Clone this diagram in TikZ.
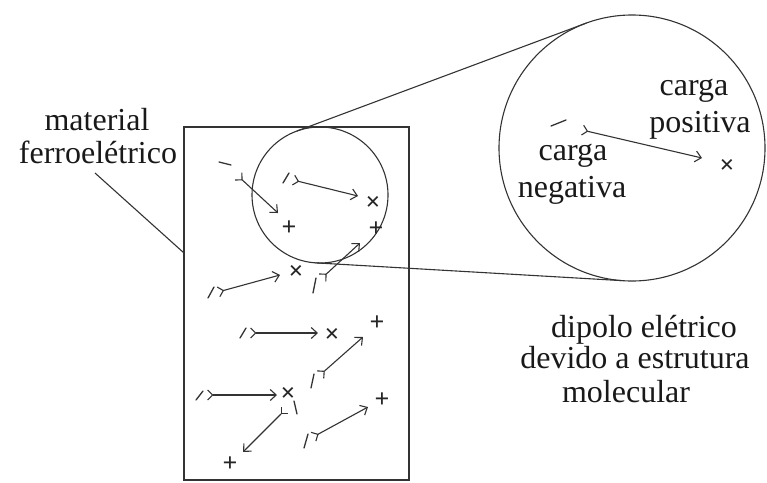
\documentclass[tikz,border=0pt]{standalone}
\usepackage{fontspec}
\setmainfont{Liberation Serif}
\usetikzlibrary{arrows.meta,calc}
\begin{document}
\begin{tikzpicture}[x=1pt,y=-1pt,
 ink/.style={draw=black!80, line width=1.1pt},
 lbl/.style={anchor=base, inner sep=0pt, text=black!90, font=\fontsize{32}{34}\selectfont},
 sgn/.style={inner sep=0pt, text=black!85, font=\fontsize{26}{26}\selectfont\bfseries},
 dip/.style={draw=black!80, line width=1.1pt, arrows={Straight Barb[reversed,length=5pt,width=10pt,line width=1.1pt]}-{Straight Barb[length=6pt,width=11pt,line width=1.1pt]}},
 tick/.style={draw=black!80, line width=1.3pt, line cap=round},
]
\useasboundingbox (0,0) rectangle (767,482);
% main shapes
\node[ink, minimum width=225pt, minimum height=353pt, inner sep=0pt, outer sep=0pt] (rect) at (296.5,303.5) {};
\node[ink, circle, minimum size=136pt, inner sep=0pt, outer sep=0pt] (small) at (320,195) {};
\node[ink, circle, minimum size=266pt, inner sep=0pt, outer sep=0pt] (big) at (632,148) {};
\draw[ink] (small.110.5) -- (big.110.5);
\draw[ink] (small.266.7) -- (big.266.7);
% labels
\node[lbl] (mat1) at (97,130) {material};
\node[lbl] (mat2) at (98,163) {ferroelétrico};
\coordinate (ls) at (95,173);
\coordinate (le) at (184,253);
\draw[ink] (ls) -- (le);
\node[lbl] (cp1) at (694,95) {carga};
\node[lbl] (cp2) at (700,132) {positiva};
\node[lbl] (cn1) at (573,160) {carga};
\node[lbl] (cn2) at (572,197) {negativa};
\node[lbl] (dp1) at (644,337) {dipolo elétrico};
\node[lbl] (dp2) at (635,368) {devido a estrutura};
\node[lbl] (dp3) at (626,402) {molecular};
% dipoles in material
% A
\coordinate (tA) at (238,176); \coordinate (hA) at (278,213);
\node[sgn] (sA) at (289,228) {+};
\draw[dip] (tA) -- (hA);
\draw[tick] (219,162) -- (231,165);
% B
\coordinate (tB) at (293,180); \coordinate (hB) at (358,196);
\node[sgn] (sB) at (373,203) {×};
\draw[dip] (tB) -- (hB);
\draw[tick] ($(tB)+(-10,3)$) -- ($(tB)+(-4,-7)$);
% C
\coordinate (tC) at (322,278); \coordinate (hC) at (360,243);
\node[sgn] (sC) at (376,229) {+};
\draw[dip] (tC) -- (hC);
\draw[tick] ($(tC)+(-9,15)$) -- ($(tC)+(-6,0)$);
% D
\coordinate (tD) at (218,292); \coordinate (hD) at (280,275);
\node[sgn] (sD) at (296,272) {×};
\draw[dip] (tD) -- (hD);
\draw[tick] ($(tD)+(-10,6)$) -- ($(tD)+(-4,-5)$);
% E
\coordinate (tE) at (250,333); \coordinate (hE) at (318,333);
\node[sgn] (sE) at (332,335) {×};
\draw[dip] (tE) -- (hE);
\draw[tick] ($(tE)+(-10,5)$) -- ($(tE)+(-4,-5)$);
% F
\coordinate (tF) at (320,375); \coordinate (hF) at (363,337);
\node[sgn] (sF) at (377,323) {+};
\draw[dip] (tF) -- (hF);
\draw[tick] ($(tF)+(-9,13)$) -- ($(tF)+(-6,-1)$);
% G
\coordinate (tG) at (207,395); \coordinate (hG) at (277,395);
\node[sgn] (sG) at (288,394) {×};
\draw[dip] (tG) -- (hG);
\draw[tick] ($(tG)+(-11,5)$) -- ($(tG)+(-4,-4)$);
% H
\coordinate (tH) at (285,410); \coordinate (hH) at (243,452);
\node[sgn] (sH) at (230,464) {+};
\draw[dip] (tH) -- (hH);
\draw[tick] (294,401) -- (297,414);
% I
\coordinate (tI) at (313,437); \coordinate (hI) at (368,407);
\node[sgn] (sI) at (382,400) {+};
\draw[dip] (tI) -- (hI);
\draw[tick] ($(tI)+(-9,11)$) -- ($(tI)+(-5,-3)$);
% dipole in magnified view
\coordinate (tM) at (582,130); \coordinate (hM) at (702,158);
\node[sgn] (sM) at (727,166) {×};
\draw[dip] (tM) -- (hM);
\draw[tick] (551,126) -- (566,120);
\end{tikzpicture}
\end{document}
